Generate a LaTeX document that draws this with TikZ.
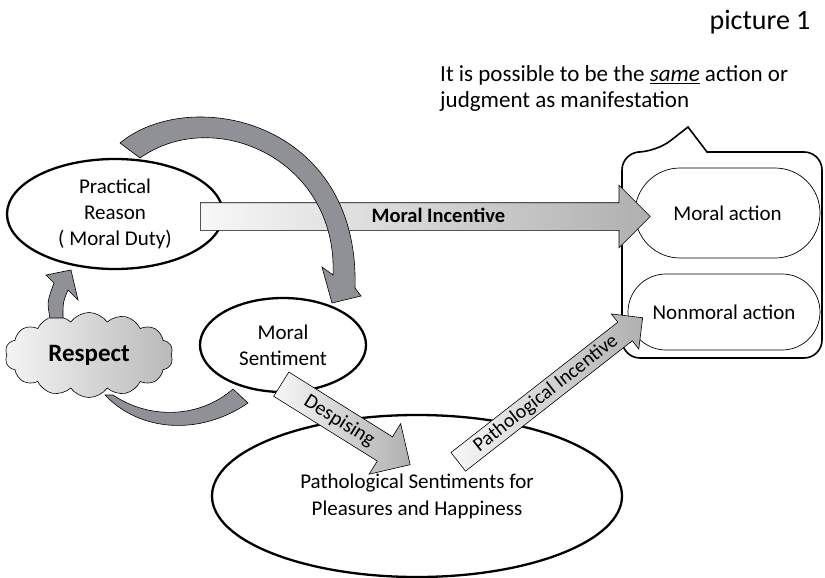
\documentclass[tikz,border=0pt]{standalone}
\usepackage{fontspec}
\setmainfont{Carlito}
\usetikzlibrary{shapes.geometric,shapes.symbols,shapes.arrows,shapes.misc}
\definecolor{bandgray}{RGB}{143,145,150}
\tikzset{
  oval/.style={ellipse, draw, line width=2.3pt, inner sep=0pt, align=center, font=\fontsize{21}{26}\selectfont},
  actionbox/.style={rounded rectangle, draw, line width=0.7pt, inner sep=0pt, font=\fontsize{21}{24}\selectfont},
  blockarrow/.style={single arrow, draw, line width=0.6pt, left color=gray!6, right color=gray!62,
    single arrow head indent=0pt, inner xsep=0pt, inner ysep=0pt, anchor=tail},
  band/.style={fill=bandgray, draw, line width=0.6pt}
}
\begin{document}
\begin{tikzpicture}[x=1pt, y=-1pt]
  \useasboundingbox (0,0) rectangle (825,578);

  \node[anchor=east, font=\fontsize{28}{32}\selectfont] (title) at (814,22) {picture 1};
  \node[anchor=north west, align=left, inner sep=0pt, font=\fontsize{23}{26}\selectfont] (note) at (440,65)
    {It is possible to be the \underline{\textit{same}} action or\\judgment as manifestation};

  % callout with the two actions
  \draw[line width=1.6pt] (622,250) [rounded corners=18pt] -- (622,152) -- (656,152) [sharp corners] -- (688,127)
    -- (707,152) [rounded corners=18pt] -- (822,152) -- (822,358) -- (622,358) -- cycle;
  \node[actionbox, minimum width=185pt, minimum height=90pt] (moral) at (727.5,213) {Moral action};
  \node[actionbox, minimum width=192pt, minimum height=76pt] (nonmoral) at (724,312) {Nonmoral action};

  \node[oval, minimum width=216pt, minimum height=110pt] (reason) at (115,214)
    {Practical\\Reason\\( Moral Duty)};
  \node[oval, minimum width=166pt, minimum height=94pt] (sentiment) at (283,345)
    {Moral\\Sentiment};
  \node[oval, minimum width=410pt, minimum height=162pt, font=\fontsize{21}{27}\selectfont] (patho) at (417,496)
    {Pathological Sentiments for\\Pleasures and Happiness};
  \node[cloud, cloud puffs=14, cloud puff arc=110, cloud ignores aspect, draw, line width=0.6pt,
    left color=gray!8, right color=gray!55, minimum width=168pt, minimum height=85pt,
    font=\bfseries\fontsize{25}{28}\selectfont] (respect) at (89,355) {Respect};

  % curved bands
  \draw[band] (50,318) .. controls (47,302) .. (54,283) -- (46,275) -- (71,270) -- (78,300)
    -- (68,290) .. controls (63,302) .. (63,318) -- cycle;
  \draw[band] (105,395) .. controls (140,432) and (200,436) .. (248,403) -- (233,389)
    .. controls (200,418) and (150,420) .. (113,395) -- cycle;

  % block arrows
  \node[blockarrow, minimum height=450pt, text height=19pt, text depth=8pt, single arrow head extend=17.5pt,
    font=\bfseries\fontsize{20.5}{24}\selectfont] (incentive) at (200,216.5) {\hspace*{40pt}Moral Incentive};
  \draw[band] (120,143) .. controls (190,85) and (360,120) .. (355,288) -- (361,296) -- (332,303)
    -- (322,267) -- (333,275) .. controls (338,160) and (215,105) .. (140,158) -- cycle;
  \node[blockarrow, rotate=-32, minimum height=152pt, text height=20pt, text depth=8pt, single arrow head extend=15.5pt,
    font=\fontsize{20.5}{24}\selectfont] (despise) at (281,384) {Despising};
  \node[blockarrow, rotate=38, minimum height=234pt, text height=17pt, text depth=6pt, single arrow head extend=10.5pt,
    font=\fontsize{20}{24}\selectfont] (pincentive) at (458,462) {Pathological Incentive};
\end{tikzpicture}
\end{document}
